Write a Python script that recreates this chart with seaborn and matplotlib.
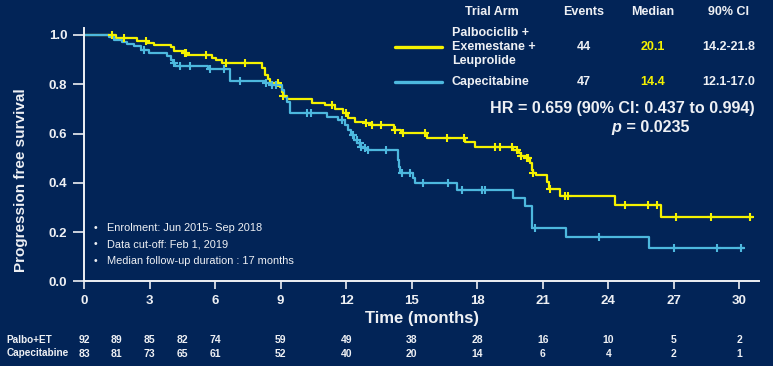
import numpy as np
import pandas as pd
import seaborn as sns
import matplotlib.pyplot as plt
from matplotlib.lines import Line2D

# Kaplan-Meier steps (time in months, survival after the step)
palbo_time = [0, 1.45, 2.44, 2.9, 3.2, 3.97, 4.12, 4.58, 4.73, 5.87,
              6.03, 6.33, 8.13, 8.3, 8.4, 8.5, 8.97, 9.05, 9.12, 9.27,
              10.42, 11.03, 11.5, 11.87, 12.1, 12.4, 12.86, 13.2, 14.2, 14.5,
              15.7, 17.45, 17.9, 19.65, 19.9, 20.0, 20.26, 20.4, 20.5, 20.55,
              20.7, 21.2, 21.3, 21.8, 24.3, 26.4]
palbo_surv = [1.0, 0.988, 0.977, 0.967, 0.961, 0.95, 0.936, 0.927, 0.92, 0.907,
              0.897, 0.886, 0.865, 0.838, 0.82, 0.806, 0.788, 0.77, 0.752, 0.739,
              0.725, 0.716, 0.699, 0.682, 0.662, 0.648, 0.642, 0.635, 0.615, 0.601,
              0.583, 0.567, 0.547, 0.533, 0.523, 0.51, 0.50, 0.48, 0.452, 0.439,
              0.432, 0.405, 0.375, 0.347, 0.31, 0.26]
palbo_end = 30.6
palbo_cens = [1.3, 1.83, 2.82, 4.62, 4.68, 5.57, 6.48, 7.37, 8.9, 9.12,
              11.33, 11.98, 12.9, 13.2, 13.6, 14.25, 14.6, 15.6, 16.6, 17.4,
              18.8, 19.04, 19.57, 19.8, 20.0, 20.26, 20.33, 20.56, 21.33, 22.0,
              22.17, 24.76, 25.82, 26.25, 27.1, 28.7, 30.5]

cape_time = [0, 1.15, 1.37, 1.75, 1.98, 2.3, 2.6, 2.97, 3.81, 4.0,
             4.09, 4.15, 5.67, 6.68, 8.28, 8.5, 9.05, 9.15, 9.27, 9.43,
             11.1, 11.64, 11.95, 12.1, 12.2, 12.35, 12.5, 12.65, 12.8, 13.0,
             14.36, 14.4, 14.46, 15.04, 15.15, 17.05, 19.65, 20.18, 20.49, 22.06,
             25.87]
cape_surv = [1.0, 0.99, 0.981, 0.972, 0.963, 0.954, 0.94, 0.927, 0.914, 0.9,
             0.886, 0.873, 0.862, 0.815, 0.804, 0.797, 0.777, 0.75, 0.729, 0.685,
             0.669, 0.655, 0.635, 0.615, 0.594, 0.574, 0.56, 0.547, 0.54, 0.533,
             0.493, 0.466, 0.439, 0.419, 0.398, 0.369, 0.34, 0.307, 0.216, 0.182,
             0.137]
cape_end = 30.2
cape_cens = [2.75, 4.12, 4.4, 4.85, 5.77, 6.4, 7.14, 8.35, 8.6, 8.8,
             10.22, 10.37, 11.8, 12.3, 12.48, 12.63, 12.7, 12.86, 13.0, 13.8,
             14.54, 14.92, 15.53, 16.68, 17.3, 18.2, 18.35, 20.64, 23.58, 27.0,
             28.96, 30.05]

# number at risk
risk_times = [0, 1.5, 3, 4.5, 6, 9, 12, 15, 18, 21, 24, 27, 30]
palbo_risk = [92, 89, 85, 82, 74, 59, 49, 38, 28, 16, 10, 5, 2]
cape_risk = [83, 81, 73, 65, 61, 52, 40, 20, 14, 6, 4, 2, 1]

x_ticks = list(range(0, 31, 3))
y_ticks = [0.0, 0.2, 0.4, 0.6, 0.8, 1.0]

bg = '#022457'
fg = '#eef0f4'
yellow = '#f5f200'
blue = '#4db8de'

sns.set_style('ticks', {'axes.facecolor': bg, 'figure.facecolor': bg,
                        'axes.edgecolor': fg, 'xtick.color': fg, 'ytick.color': fg,
                        'text.color': fg, 'axes.labelcolor': fg})
plt.rcParams['font.family'] = ['Liberation Sans', 'DejaVu Sans']

rows = []
for arm, t, s, end in [('Palbo+ET', palbo_time, palbo_surv, palbo_end),
                       ('Capecitabine', cape_time, cape_surv, cape_end)]:
    for ti, si in zip(list(t) + [end], list(s) + [s[-1]]):
        rows.append({'arm': arm, 'time': ti, 'surv': si})
df = pd.DataFrame(rows)

fig = plt.figure(figsize=(7.73, 3.66), dpi=100)
ax = fig.add_axes([0.1087, 0.231, 0.8733, 0.6937])

sns.lineplot(data=df, x='time', y='surv', hue='arm', estimator=None, sort=False,
             palette={'Palbo+ET': yellow, 'Capecitabine': blue},
             drawstyle='steps-post', linewidth=1.6, legend=False, ax=ax)

def step_at(times, surv, c):
    i = np.searchsorted(times, c, side='right') - 1
    return surv[i]

for t, s, cens, col in [(palbo_time, palbo_surv, palbo_cens, yellow),
                        (cape_time, cape_surv, cape_cens, blue)]:
    cy = [step_at(np.array(t), np.array(s), c) for c in cens]
    ax.plot(cens, cy, linestyle='none', marker='+', markersize=6,
            markeredgewidth=1.5, color=col)

ax.set_xlim(0, 30.9)
ax.set_ylim(0, 1.03)
ax.set_xticks(x_ticks)
ax.set_yticks(y_ticks)
ax.set_yticklabels([f'{v:.1f}' for v in y_ticks])
ax.tick_params(axis='both', labelsize=9.5, width=1.2, length=6, pad=4)
ax.tick_params(axis='y', length=8)
for lab in ax.get_xticklabels() + ax.get_yticklabels():
    lab.set_fontweight('bold')
for sp in ['top', 'right']:
    ax.spines[sp].set_visible(False)
for sp in ['left', 'bottom']:
    ax.spines[sp].set_linewidth(1.4)

ax.set_xlabel('Time (months)', fontsize=12, fontweight='bold')
ax.xaxis.set_label_coords(0.5, -0.115)
ax.set_ylabel('Progression free survival', fontsize=11, fontweight='bold')
ax.yaxis.set_label_coords(-0.083, 0.40)

# notes inside the plot
notes = ['Enrolment: Jun 2015- Sep 2018', 'Data cut-off: Feb 1, 2019',
         'Median follow-up duration : 17 months']
for i, note in enumerate(notes):
    yy = 0.215 - i * 0.065
    ax.text(0.5, yy, '\u2022', fontsize=7.5, va='center', ha='center')
    ax.text(1.05, yy, note, fontsize=7.9, va='center', ha='left')

# number at risk table
for t, n1, n2 in zip(risk_times, palbo_risk, cape_risk):
    ax.text(t, -0.232, str(n1), transform=ax.get_xaxis_transform(),
            ha='center', va='center', fontsize=7.5, fontweight='bold')
    ax.text(t, -0.284, str(n2), transform=ax.get_xaxis_transform(),
            ha='center', va='center', fontsize=7.5, fontweight='bold')
fig.text(0.008, 0.071, 'Palbo+ET', fontsize=7.2, fontweight='bold', va='center')
fig.text(0.008, 0.035, 'Capecitabine', fontsize=7.2, fontweight='bold', va='center')

# legend table, top right
W, H = 773.0, 366.0
def fx(px):
    return px / W
def fy(py):
    return 1 - py / H

hdr = [('Trial Arm', 491.7), ('Events', 584), ('Median', 653), ('90% CI', 729)]
for txt, px in hdr:
    fig.text(fx(px), fy(12), txt, ha='center', va='center', fontsize=9, fontweight='bold')

fig.add_artist(Line2D([fx(395), fx(442)], [fy(47), fy(47)], color=yellow, lw=2.4,
                      transform=fig.transFigure))
fig.add_artist(Line2D([fx(395), fx(442)], [fy(81.7), fy(81.7)], color=blue, lw=2.4,
                      transform=fig.transFigure))
fig.text(fx(451.7), fy(47), 'Palbociclib +\nExemestane +\nLeuprolide', ha='left',
         va='center', fontsize=9, fontweight='bold', linespacing=1.25)
fig.text(fx(451.7), fy(81.7), 'Capecitabine', ha='left', va='center', fontsize=9,
         fontweight='bold')
for py, ev, med, ci in [(47, '44', '20.1', '14.2-21.8'), (81.7, '47', '14.4', '12.1-17.0')]:
    fig.text(fx(584), fy(py), ev, ha='center', va='center', fontsize=9, fontweight='bold')
    fig.text(fx(653), fy(py), med, ha='center', va='center', fontsize=9,
             fontweight='bold', color=yellow)
    fig.text(fx(729), fy(py), ci, ha='center', va='center', fontsize=9, fontweight='bold')

fig.text(fx(622), fy(109), 'HR = 0.659 (90% CI: 0.437 to 0.994)', ha='center',
         va='center', fontsize=11.6, fontweight='bold')
fig.text(fx(621), fy(128), 'p', ha='right', va='center', fontsize=11.6,
         fontweight='bold', fontstyle='italic')
fig.text(fx(622), fy(128), ' = 0.0235', ha='left', va='center', fontsize=11.6,
         fontweight='bold')

fig.savefig('out.png', dpi=100, facecolor=bg)
